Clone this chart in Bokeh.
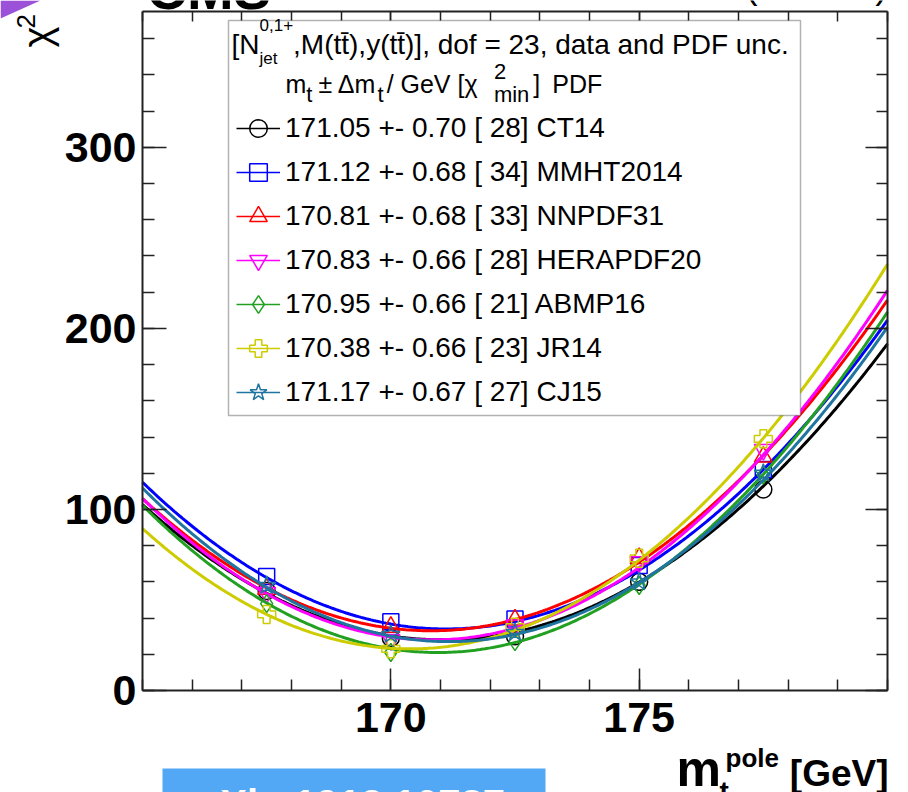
import numpy as np
from bokeh.plotting import figure
from bokeh.models import (Range1d, FixedTicker, LinearAxis, Label, BoxAnnotation,
                          PolyAnnotation, Legend, LegendItem)
from bokeh.embed import file_html
from bokeh.resources import INLINE

# ---------------------------------------------------------------- data
# top-quark pole mass values at which chi2 was evaluated [GeV]
mass_points = [167.5, 170.0, 172.5, 175.0, 177.5]

pdf_names = ["CT14", "MMHT2014", "NNPDF31", "HERAPDF20", "ABMP16", "JR14", "CJ15"]
mt_best = [171.05, 171.12, 170.81, 170.83, 170.95, 170.38, 171.17]
mt_unc = [0.70, 0.68, 0.68, 0.66, 0.66, 0.66, 0.67]
chi2_min = [28, 34, 33, 28, 21, 23, 27]

chi2_ct14 = [55, 29, 30, 60, 111]
chi2_mmht2014 = [63, 38, 39.5, 69, 122]
chi2_nnpdf31 = [56, 35, 39, 73, 129]
chi2_herapdf20 = [54, 28, 36, 71, 133]
chi2_abmp16 = [48, 21, 27, 58, 119]
chi2_jr14 = [42, 23, 35, 73, 139]
chi2_cj15 = [58, 31, 32, 60, 120]
chi2_points = [chi2_ct14, chi2_mmht2014, chi2_nnpdf31, chi2_herapdf20,
               chi2_abmp16, chi2_jr14, chi2_cj15]

x_major = [170, 175]
y_major = [0, 100, 200, 300]
X_LO, X_HI = 165.0, 180.0
Y_LO, Y_HI = 0.0, 375.0

# ---------------------------------------------------------------- style
colors = ["#000000", "#0000ff", "#ff0000", "#ff00ff", "#22a022", "#cccc00", "#1f74a0"]
markers = ["circle", "square", "triangle", "inverted_triangle", "diamond", "plus", "star"]
marker_sizes = [17, 16, 18, 18, 18, 18, 19]

W, H = 908, 792
# pixel box of the axes inside the canvas
BOX_L, BOX_R, BOX_T, BOX_B = 142, 887, 11, 690
BOLD_FONT = "Liberation Sans"
TEXT_FONT = "Liberation Sans"
MID = 0.346          # baseline -> middle-of-box offset, in em

# the plotting frame spans the whole canvas; the axes sit at fixed data locations
kx = (X_HI - X_LO) / (BOX_R - BOX_L)
ky = (Y_HI - Y_LO) / (BOX_B - BOX_T)
x_range = Range1d(X_LO - BOX_L * kx, X_HI + (W - BOX_R) * kx)
y_range = Range1d(Y_LO - (H - BOX_B) * ky, Y_HI + BOX_T * ky)


def sx(px):
    """canvas x pixel -> screen coordinate"""
    return px


def sy(py):
    """canvas y pixel (top-down) -> screen coordinate (bottom-up)"""
    return H - py


p = figure(width=W, height=H, x_range=x_range, y_range=y_range,
           output_backend="svg", toolbar_location=None,
           min_border_left=0, min_border_right=0, min_border_top=0, min_border_bottom=0)
p.xgrid.visible = False
p.ygrid.visible = False
p.outline_line_color = None
p.background_fill_color = "white"
p.border_fill_color = "white"

x_ticker = FixedTicker(ticks=x_major, minor_ticks=list(np.arange(165, 181, 1)))
y_ticker = FixedTicker(ticks=y_major, minor_ticks=list(np.arange(0, 376, 20)))


def style_axis(ax, major_len, minor_len, ticks, labels=True):
    ax.axis_line_color = "#222222"
    ax.axis_line_width = 2
    ax.major_tick_in = major_len
    ax.major_tick_out = 0
    ax.minor_tick_in = minor_len
    ax.minor_tick_out = 0
    ax.major_tick_line_color = "#222222"
    ax.minor_tick_line_color = "#222222"
    ax.major_tick_line_width = 1.5
    ax.minor_tick_line_width = 1.5
    if labels:
        ax.major_label_text_font = BOLD_FONT
        ax.major_label_text_font_style = "bold"
        ax.major_label_text_font_size = "43px"
        ax.major_label_text_color = "black"
    else:
        # mirrored tick marks only, no numbers
        ax.major_label_overrides = {t: "" for t in ticks}
        ax.major_label_standoff = 0


xa = p.xaxis[0]
ya = p.yaxis[0]
xa.ticker = x_ticker
ya.ticker = y_ticker
xa.fixed_location = Y_LO
ya.fixed_location = X_LO
xa.bounds = (X_LO, X_HI)
ya.bounds = (Y_LO, Y_HI)
style_axis(xa, 22, 11, x_major)
style_axis(ya, 24, 12, y_major)
xa.major_label_standoff = 12
ya.major_label_standoff = 6

top_axis = LinearAxis(ticker=x_ticker, fixed_location=Y_HI, bounds=(X_LO, X_HI))
style_axis(top_axis, 22, 10, x_major, labels=False)
p.add_layout(top_axis, "above")
right_axis = LinearAxis(ticker=y_ticker, fixed_location=X_HI, bounds=(Y_LO, Y_HI))
style_axis(right_axis, 22, 11, y_major, labels=False)
p.add_layout(right_axis, "right")

# ---------------------------------------------------------------- curves and points
m_grid = np.linspace(X_LO, X_HI, 301)
legend_items = []
for name, mt, dm, cmin, pts, col, mk, ms in zip(pdf_names, mt_best, mt_unc, chi2_min,
                                                 chi2_points, colors, markers, marker_sizes):
    # parabola chi2(m) = chi2_min + ((m - mt)/dmt)^2 from the fitted parameters
    curve = cmin + ((m_grid - mt) / dm) ** 2
    p.line(m_grid, curve, line_color=col, line_width=3)
    sc = p.scatter(mass_points, pts, marker=mk, size=ms, line_color=col,
                   line_width=1.5, fill_alpha=0)
    key = p.line(x=[np.nan], y=[np.nan], line_color=col, line_width=1.5)
    label = f"{mt:.2f} +- {dm:.2f} [{cmin:3.0f}] {name}"
    legend_items.append(LegendItem(label=label, renderers=[key, sc]))

# ---------------------------------------------------------------- legend box and header
p.add_layout(BoxAnnotation(left=sx(228), right=sx(800), top=sy(20), bottom=sy(415),
                           left_units="screen", right_units="screen",
                           top_units="screen", bottom_units="screen",
                           fill_color="white", fill_alpha=1.0,
                           line_color="black", line_width=1.5))

ARIAL = {" ": 278, "[": 278, "]": 278, "(": 333, ")": 333, ",": 278, ".": 278,
         "+": 584, "-": 333, "=": 584, "/": 278, ":": 278, "±": 584, "Δ": 668,
         "χ": 500, "\u0304": 0, "N": 722, "M": 833, "P": 667, "D": 722, "F": 611,
         "G": 778, "V": 667, "C": 722, "T": 611, "a": 556, "c": 500, "d": 556,
         "e": 556, "f": 278, "i": 222, "j": 222, "l": 222, "m": 833, "n": 556,
         "o": 556, "p": 556, "r": 333, "s": 500, "t": 278, "u": 556, "y": 500}


def text_width(s, size):
    return sum(ARIAL.get(ch, 556) for ch in s) * size / 1000.0


def add_text(px, base_py, text, size, font=TEXT_FONT, style="normal", color="black",
             align="left", angle=0.0):
    """Place text so that its baseline sits at canvas row base_py."""
    if angle == 0.0:
        x, y = px, base_py - MID * size
    else:
        # rotated by +90 degrees: the baseline is the vertical line x = px
        x, y = px - MID * size, base_py
    p.add_layout(Label(x=sx(x), y=sy(y), x_units="screen", y_units="screen",
                       text=text, text_font=font, text_font_size=f"{size}px",
                       text_font_style=style, text_color=color, text_align=align,
                       text_baseline="middle", angle=angle))


def rich_line(px, py, parts, size, small, up, down):
    """Lay out a line of text with sub/superscripts and gaps, left to right."""
    x = px
    for part in parts:
        kind = part[0]
        if kind == "n":
            add_text(x, py, part[1], size)
            x += text_width(part[1], size)
        elif kind == "gap":
            x += part[1]
        elif kind == "sub":
            add_text(x, py + down, part[1], small)
            x += text_width(part[1], small)
        elif kind == "supsub":
            add_text(x, py - up, part[1], small)
            add_text(x, py + down, part[2], small)
            x += max(text_width(part[1], small), text_width(part[2], small))


tbar = "t\u0304"
rich_line(231, 54, [("n", "[N"), ("supsub", "0,1+", "jet"),
                    ("n", f",M(t{tbar}),y(t{tbar})], dof = 23, data and PDF unc.")],
          28, 17, 24, 10)
rich_line(285, 92, [("n", "m"), ("sub", "t"), ("gap", 6), ("n", "± Δm"), ("sub", "t"),
                    ("gap", 3), ("n", " / GeV [χ"), ("gap", 10), ("supsub", "2", "min"),
                    ("gap", 4), ("n", "]"), ("gap", 12), ("n", "PDF")],
          25, 22, 13, 10)

legend = Legend(items=legend_items, location=(sx(236), sy(414)),
                border_line_alpha=0, background_fill_alpha=0,
                padding=0, margin=0, spacing=0,
                glyph_width=44, glyph_height=44, label_height=44,
                label_standoff=5, label_text_font=TEXT_FONT,
                label_text_font_size="28px", label_text_color="black")
p.add_layout(legend)

# ---------------------------------------------------------------- axis titles
add_text(50, 47, "χ", 40, angle=np.pi / 2)
add_text(34, 28, "2", 26, angle=np.pi / 2)

add_text(676, 786, "m", 50, font=BOLD_FONT, style="bold")
add_text(719, 801, "t", 28, font=BOLD_FONT, style="bold")
add_text(725, 766, "pole", 26, font=BOLD_FONT, style="bold")
add_text(888, 786, "[GeV]", 37, font=BOLD_FONT, style="bold", align="right")

# ---------------------------------------------------------------- header strip and footer
add_text(146, 8, "CMS", 56, style="bold")
add_text(888, -2, "35.9 fb\u207b\u00b9 (13 TeV)", 38, align="right")

p.add_layout(PolyAnnotation(xs=[sx(0), sx(40), sx(0)], ys=[sy(0), sy(0), sy(18)],
                            xs_units="screen", ys_units="screen",
                            fill_color="#9b52d8", fill_alpha=1.0, line_alpha=0))

p.add_layout(BoxAnnotation(left=sx(162), right=sx(545), top=sy(768), bottom=sy(800),
                           left_units="screen", right_units="screen",
                           top_units="screen", bottom_units="screen",
                           fill_color="#52a8f5", fill_alpha=1.0, line_alpha=0))
add_text(182, 817, "arXiv:1912.10787", 40, style="bold", color="white")

open("out.html", "w").write(file_html(p, INLINE))
